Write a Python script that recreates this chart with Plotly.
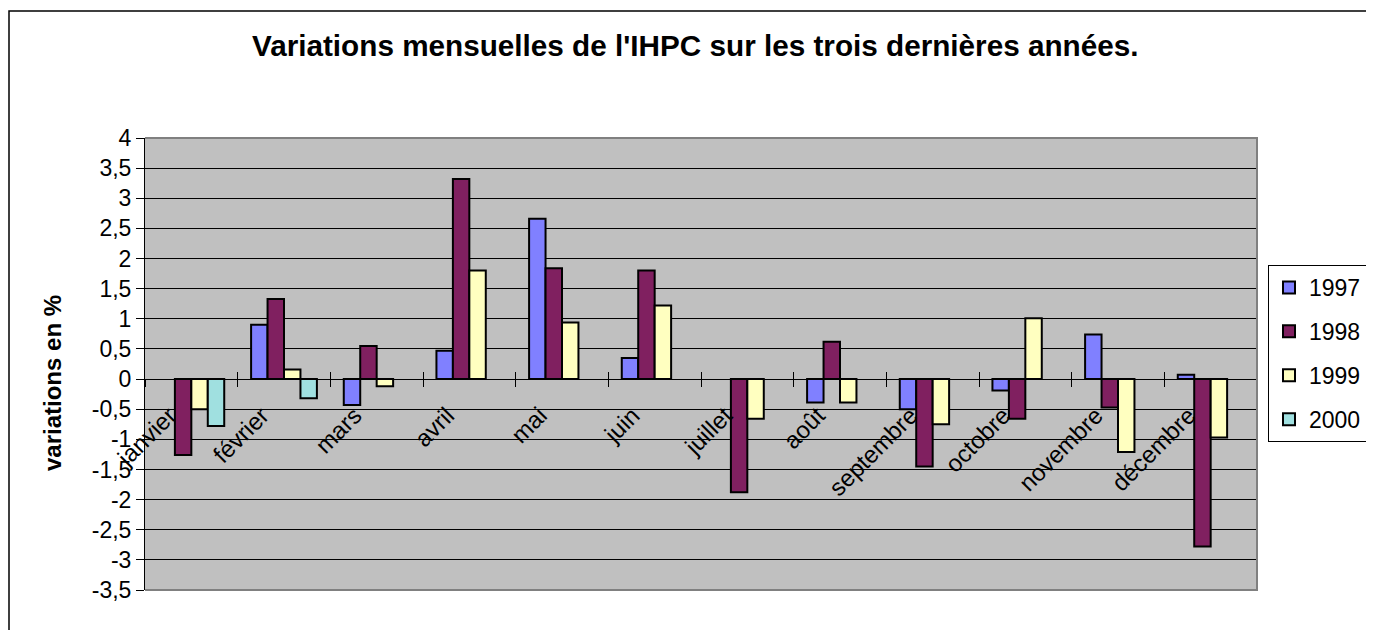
import plotly.graph_objects as go

months = ["janvier", "février", "mars", "avril", "mai", "juin", "juillet",
          "août", "septembre", "octobre", "novembre", "décembre"]
v1997 = [None, 0.90, -0.43, 0.47, 2.66, 0.35, None, -0.39, -0.50, -0.19, 0.74, 0.07]
v1998 = [-1.26, 1.33, 0.55, 3.32, 1.84, 1.80, -1.88, 0.62, -1.45, -0.66, -0.47, -2.78]
v1999 = [-0.50, 0.16, -0.12, 1.80, 0.94, 1.22, -0.66, -0.39, -0.75, 1.01, -1.21, -0.97]
v2000 = [-0.78, -0.32, None, None, None, None, None, None, None, None, None, None]
series_names = ["1997", "1998", "1999", "2000"]
series_colors = ["#8080FF", "#802060", "#FFFFC0", "#A0E0E0"]
y_tick_vals = [-3.5, -3, -2.5, -2, -1.5, -1, -0.5, 0, 0.5, 1, 1.5, 2, 2.5, 3, 3.5, 4]
y_tick_text = ["-3,5", "-3", "-2,5", "-2", "-1,5", "-1", "-0,5", "0",
               "0,5", "1", "1,5", "2", "2,5", "3", "3,5", "4"]

FONT = "Liberation Sans, Arial, sans-serif"

OFF = 8  # browser body margin
W, H = 1374 - OFF, 630 - OFF
L, R, T, B = 145 - OFF, W - (1257 - OFF), 138 - OFF, H - (590 - OFF)
PW, PH = W - L - R, H - T - B

def px_x(p):  # reference screen pixel -> paper fraction
    return (p - OFF - L) / PW

def px_y(p):
    return (H - B - (p - OFF)) / PH

fig = go.Figure()
for name, vals, col in zip(series_names, [v1997, v1998, v1999, v2000], series_colors):
    fig.add_trace(go.Bar(
        x=months, y=vals, name=name, legendgroup=name,
        marker=dict(color=col, line=dict(color="black", width=2)),
    ))

# helper trace for the upward half of the cross ticks
fig.add_trace(go.Scatter(x=[], y=[], xaxis="x2", yaxis="y", showlegend=False,
                         hoverinfo="skip"))

zero_pos = (0 - (-3.5)) / (4 - (-3.5))

fig.update_layout(
    width=W, height=H,
    margin=dict(l=L, r=R, t=T, b=B, autoexpand=False),
    paper_bgcolor="white",
    plot_bgcolor="#C0C0C0",
    separators=", ",
    barmode="group",
    bargap=0.29,
    bargroupgap=0,
    font=dict(family=FONT, size=23, color="black"),
    showlegend=True,
    legend=dict(
        x=px_x(1367), y=px_y(265), xanchor="right", yanchor="top",
        bordercolor="black", borderwidth=1, bgcolor="white",
        font=dict(family=FONT, size=23, color="black"),
        tracegroupgap=11, itemwidth=30,
    ),
    xaxis=dict(
        type="category",
        anchor="free", position=zero_pos,
        showline=True, linecolor="black", linewidth=1,
        ticks="outside", ticklen=7, tickcolor="black", tickwidth=1,
        tickson="boundaries",
        tickangle=-45,
        tickfont=dict(family=FONT, size=24, color="black"),
        showgrid=False, zeroline=False,
        range=[-0.5, 11.5],
        ticklabelstandoff=12,
        ticklabelshift=-22,
    ),
    xaxis2=dict(
        overlaying="x", anchor="free", position=zero_pos,
        range=[-0.5, 11.5], tick0=-0.5, dtick=1,
        ticks="inside", ticklen=7, tickcolor="black", tickwidth=1,
        showticklabels=False, showgrid=False, zeroline=False, showline=False,
    ),
    yaxis=dict(
        range=[-3.5, 4],
        tickmode="array", tickvals=y_tick_vals, ticktext=y_tick_text,
        showgrid=True, gridcolor="black", gridwidth=1,
        showline=True, linecolor="black", linewidth=1,
        ticks="outside", ticklen=8, tickcolor="black",
        tickfont=dict(family=FONT, size=23, color="black"),
        zeroline=False,
    ),
    annotations=[
        dict(text="<b>Variations mensuelles de l'IHPC sur les trois dernières années.</b>",
             xref="paper", yref="paper", x=px_x(695), y=px_y(46),
             xanchor="center", yanchor="middle", showarrow=False,
             font=dict(family=FONT, size=29.7, color="black")),
        dict(text="<b>variations en %</b>",
             xref="paper", yref="paper", x=px_x(52), y=px_y(383),
             xanchor="center", yanchor="middle", showarrow=False, textangle=-90,
             font=dict(family=FONT, size=24, color="black")),
    ],
    shapes=[
        # plot-area frame (top, right, bottom)
        dict(type="path", xref="paper", yref="paper",
             path="M 0,1 L 1,1 L 1,0 L 0,0",
             line=dict(color="#808080", width=2), layer="above"),
        # outer chart frame
        dict(type="rect", xref="paper", yref="paper",
             x0=px_x(9), y0=px_y(680), x1=px_x(1420), y1=px_y(11),
             line=dict(color="black", width=1.5), layer="below"),
    ],
)

fig.write_html("out.html")
